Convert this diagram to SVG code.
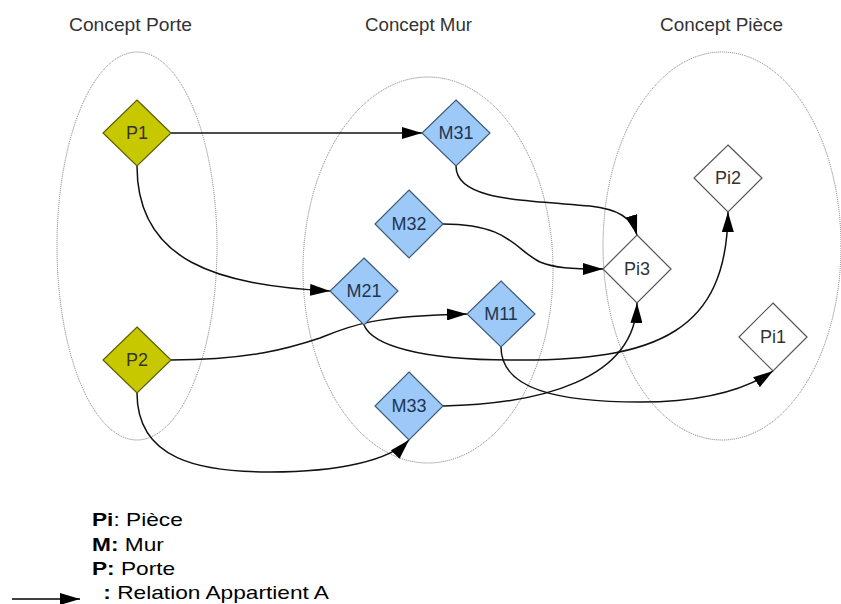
<svg xmlns="http://www.w3.org/2000/svg" width="841" height="604" viewBox="0 0 841 604">
<style>
.bg{fill:#fff}
.grp{fill:none;stroke:#777;stroke-width:1;stroke-dasharray:1 1}
.ttl{font-family:"Liberation Sans",Arial,sans-serif;font-size:18px;fill:#333}
.p{fill:#C8C800;stroke:#5c5c00;stroke-width:1.2}
.m{fill:#9CC9F8;stroke:#3d5b7a;stroke-width:1.2}
.pi{fill:#fff;stroke:#555;stroke-width:1.2}
.lbl{font-family:"Liberation Sans",Arial,sans-serif;font-size:18px;text-anchor:middle;fill:#333}
.mlbl{fill:#1e3550}
.edge{fill:none;stroke:#111;stroke-width:1.5;marker-end:url(#ah)}
.leg{font-family:"Liberation Sans",Arial,sans-serif;font-size:18px;fill:#000}
.b{font-weight:bold}
</style>
<defs>
<marker id="ah" markerUnits="userSpaceOnUse" markerWidth="20" markerHeight="12" refX="20" refY="6" orient="auto">
<path d="M0,0 L20,6 L0,12 z" fill="#000"/>
</marker>
</defs>
<rect class="bg" x="0" y="0" width="841" height="604"/>
<g id="groups">
<ellipse class="grp" cx="137" cy="246" rx="80" ry="194"/>
<ellipse class="grp" cx="428" cy="270" rx="125" ry="193"/>
<ellipse class="grp" cx="722" cy="246" rx="119" ry="194"/>
<text class="ttl" x="69" y="31" textLength="123" lengthAdjust="spacingAndGlyphs">Concept Porte</text>
<text class="ttl" x="365" y="31" textLength="107" lengthAdjust="spacingAndGlyphs">Concept Mur</text>
<text class="ttl" x="660" y="31" textLength="123" lengthAdjust="spacingAndGlyphs">Concept Pièce</text>
</g>
<g id="connectors">
<path class="edge" d="M171,133 L422,133"/>
<path class="edge" d="M137,166 C137,262 218,285 330,291"/>
<path class="edge" d="M171,360 C250,360 290,348 320,338 C350,326 370,316 467,314"/>
<path class="edge" d="M364,325 C372,345 420,360 510,360 C660,362 727,330 728,212"/>
<path class="edge" d="M501,347 C501,390 560,402 640,402 C700,402 745,390 773,371"/>
<path class="edge" d="M443,406 C540,404 635,380 637,303"/>
<path class="edge" d="M137,393 C137,460 200,472 270,472 C340,472 390,460 409,440"/>
<path class="edge" d="M456,166 C456,200 520,200 590,206 C618,209 632,218 637,235"/>
<path class="edge" d="M443,224 C510,224 515,250 540,262 C555,268 570,269 603,269"/>
</g>
<g id="P1"><polygon class="p" points="137,100 171,133 137,166 103,133"/><text class="lbl" x="137" y="139">P1</text></g>
<g id="P2"><polygon class="p" points="137,327 171,360 137,393 103,360"/><text class="lbl" x="137" y="366">P2</text></g>
<g id="M31"><polygon class="m" points="456,100 490,133 456,166 422,133"/><text class="lbl mlbl" x="456" y="139">M31</text></g>
<g id="M32"><polygon class="m" points="409,190 443,224 409,258 375,224"/><text class="lbl mlbl" x="409" y="230">M32</text></g>
<g id="M21"><polygon class="m" points="364,258 398,291 364,325 330,291"/><text class="lbl mlbl" x="364" y="297">M21</text></g>
<g id="M11"><polygon class="m" points="501,281 535,314 501,347 467,314"/><text class="lbl mlbl" x="501" y="320">M11</text></g>
<g id="M33"><polygon class="m" points="409,372 443,406 409,440 375,406"/><text class="lbl mlbl" x="409" y="412">M33</text></g>
<g id="Pi3"><polygon class="pi" points="637,235 671,269 637,303 603,269"/><text class="lbl" x="637" y="275">Pi3</text></g>
<g id="Pi2"><polygon class="pi" points="728,145 762,178 728,212 694,178"/><text class="lbl" x="728" y="184">Pi2</text></g>
<g id="Pi1"><polygon class="pi" points="773,303 807,337 773,371 739,337"/><text class="lbl" x="773" y="343">Pi1</text></g>
<g id="legend">
<path d="M12,599 L80,599" fill="none" stroke="#000" stroke-width="1.5" marker-end="url(#ah)"/>
<g transform="translate(92,0) scale(1.26,1)">
<text class="leg" x="0" y="526"><tspan class="b">Pi</tspan>: Pièce</text>
<text class="leg" x="0" y="551"><tspan class="b">M:</tspan> Mur</text>
<text class="leg" x="0" y="575"><tspan class="b">P:</tspan> Porte</text>
<text class="leg" x="9" y="599"><tspan class="b">:</tspan> Relation Appartient A</text>
</g>
</g>
</svg>
